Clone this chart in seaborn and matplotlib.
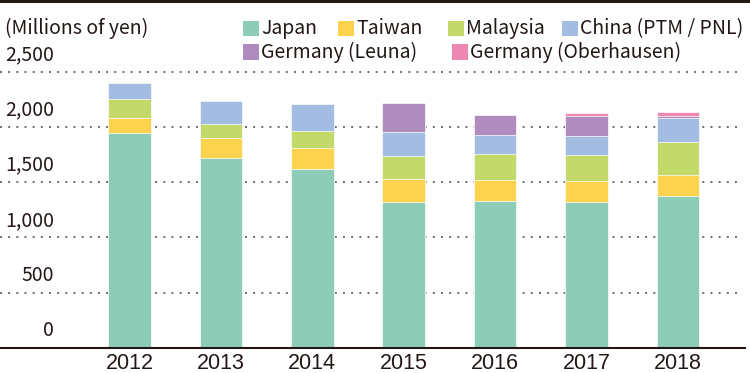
import numpy as np
import pandas as pd
import matplotlib
matplotlib.use("Agg")
import matplotlib.pyplot as plt
import matplotlib.transforms as mtransforms
from matplotlib.patches import Rectangle
import seaborn as sns

years = ["2012", "2013", "2014", "2015", "2016", "2017", "2018"]
japan = [1946, 1716, 1619, 1320, 1329, 1320, 1372]
taiwan = [139, 182, 188, 206, 194, 188, 190]
malaysia = [172, 126, 154, 208, 229, 235, 299]
china = [142, 212, 248, 224, 173, 173, 218]
leuna = [0, 0, 0, 260, 187, 184, 21]
oberhausen = [0, 0, 0, 0, 0, 30, 36]

series_names = ["Japan", "Taiwan", "Malaysia", "China (PTM / PNL)",
                "Germany (Leuna)", "Germany (Oberhausen)"]
series_vals = [japan, taiwan, malaysia, china, leuna, oberhausen]
colors = ["#8DCDB8", "#FDD24E", "#C3DA6B", "#A3BCE2", "#B08BBE", "#EF88B0"]
yticks = [0, 500, 1000, 1500, 2000, 2500]
ytick_labels = ["0", "500", "1,000", "1,500", "2,000", "2,500"]

TXT = "#231815"
FONT = ["Noto Sans CJK JP", "DejaVu Sans"]
FS = 14

sns.set_style("white")
plt.rcParams["font.family"] = FONT
plt.rcParams["text.color"] = TXT

df = pd.DataFrame({"year": years})
cum = np.zeros(len(years))
for name, vals in zip(series_names, series_vals):
    cum = cum + np.array(vals)
    df[name] = cum

fig = plt.figure(figsize=(7.5, 3.73), dpi=100)
ax = fig.add_axes([0, 25.3 / 373, 745 / 750, 347.7 / 373])

# gridlines
for v in yticks[1:]:
    ax.axhline(v, xmin=0, xmax=740 / 745, color="#6b6b6b", lw=1.4,
               linestyle=(0, (1, 3.2)), zorder=0)

for name, col in reversed(list(zip(series_names, colors))):
    sns.barplot(data=df, x="year", y=name, color=col, width=0.464,
                saturation=1, edgecolor="white", linewidth=0.5, ax=ax, zorder=2)

ax.set_ylim(0, 347.7 / 0.1104)
ax.set_xlim(-129.5 / 91.4, (745 - 129.5) / 91.4)
for s in ["top", "right", "left"]:
    ax.spines[s].set_visible(False)
ax.spines["bottom"].set_color(TXT)
ax.spines["bottom"].set_linewidth(1.5)
ax.set_yticks([])
ax.set_xlabel("")
ax.set_ylabel("")
ax.tick_params(axis="x", length=0, pad=3.5, colors=TXT)
for t in ax.get_xticklabels():
    t.set_fontfamily(["Liberation Sans", "DejaVu Sans"])
    t.set_fontsize(15.5)

# y labels above gridlines
bl = mtransforms.blended_transform_factory(ax.transAxes, ax.transData)
trans = mtransforms.offset_copy(bl, fig=fig, x=0, y=17, units="dots")
for v, lab in zip(yticks, ytick_labels):
    ax.text(54 / 745, v, lab, transform=trans, ha="right", va="center",
            fontsize=FS, color=TXT)

fig.text(5 / 750, 1 - 28 / 373, "(Millions of yen)", ha="left", va="center",
         fontsize=FS, color=TXT)

# top rule
fig.add_artist(Rectangle((0, 1 - 2.5 / 373), 1, 2.5 / 373, transform=fig.transFigure,
                         color=TXT, lw=0))

# manual legend
leg_pos = [(243, 28.5), (338, 28.5), (448, 28.5), (562, 28.5), (243, 52), (452, 52)]
for (px, py), name, col in zip(leg_pos, series_names, colors):
    fig.add_artist(Rectangle((px / 750, 1 - (py + 7.5) / 373), 16 / 750, 15 / 373,
                             transform=fig.transFigure, color=col, lw=0))
    fig.text((px + 18) / 750, 1 - py / 373, name, ha="left", va="center",
             fontsize=FS, color=TXT)

fig.savefig("out.png", dpi=100)
